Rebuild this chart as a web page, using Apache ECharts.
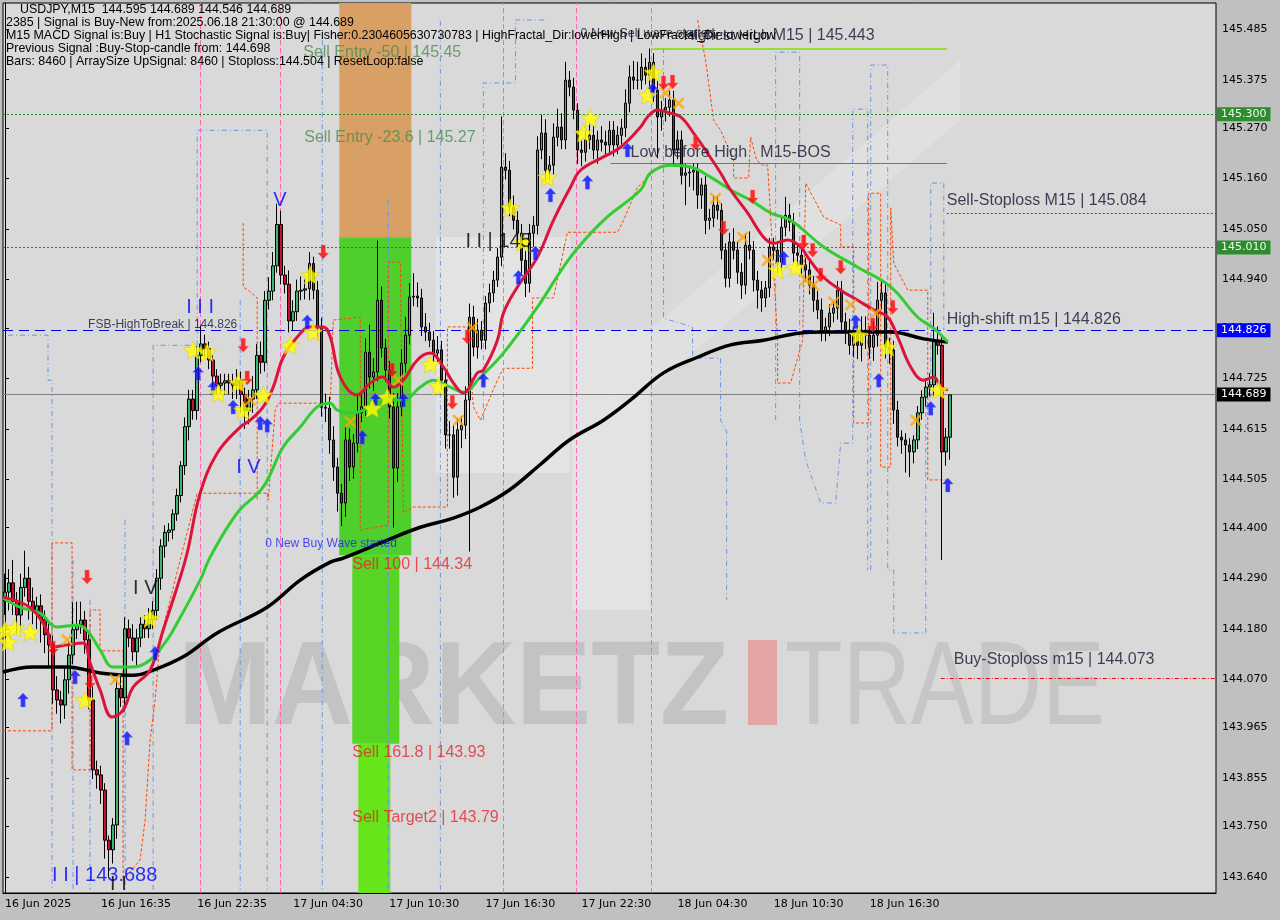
<!DOCTYPE html>
<html><head><meta charset="utf-8">
<script src="https://cdn.jsdelivr.net/npm/echarts@6/dist/echarts.min.js"></script>
<style>html,body{margin:0;padding:0;background:#c0c0c0;}#c{width:1280px;height:920px;}</style>
</head><body><div id="c"></div><script>
// ---------------- DATA ----------------
const timeLabels = ['16 Jun 2025','16 Jun 16:35','16 Jun 22:35','17 Jun 04:30','17 Jun 10:30','17 Jun 16:30','17 Jun 22:30','18 Jun 04:30','18 Jun 10:30','18 Jun 16:30'];
const priceTicks = [145.485,145.375,145.270,145.160,145.050,144.940,144.835,144.725,144.615,144.505,144.400,144.290,144.180,144.070,143.965,143.855,143.750,143.640];
const firstOpen = 144.24;
const closes = [
144.26,144.28,144.24,144.21,144.27,144.29,144.24,144.22,144.23,144.20,
144.167,144.145,144.047,144.025,144.014,144.069,144.123,144.178,144.189,144.199,
144.156,144.025,143.873,143.862,143.829,143.720,143.699,143.753,144.05,144.03,
144.18,144.16,144.13,144.16,144.19,144.18,144.20,144.22,144.29,144.36,
144.39,144.395,144.43,144.47,144.535,144.62,144.68,144.655,144.775,144.80,
144.79,144.765,144.73,144.71,144.715,144.72,144.715,144.71,144.72,144.69,
144.655,144.68,144.70,144.775,144.76,144.895,144.915,144.97,145.06,144.95,
144.93,144.85,144.87,144.915,144.917,144.92,144.975,144.917,144.837,144.662,
144.660,144.591,144.532,144.475,144.454,144.591,144.532,144.584,144.650,144.663,
144.782,144.728,144.739,144.895,144.791,144.743,144.663,144.530,144.663,144.758,
144.819,144.902,144.904,144.900,144.837,144.826,144.808,144.780,144.787,144.721,
144.602,144.602,144.510,144.613,144.623,144.678,144.858,144.793,144.830,144.808,
144.889,144.911,144.939,144.989,145.185,145.178,145.098,145.069,145.041,144.982,
144.932,145.041,145.058,145.222,145.259,145.178,145.189,145.250,145.272,145.244,
145.374,145.359,145.309,145.222,145.217,145.244,145.254,145.222,145.244,145.239,
145.233,145.265,145.233,145.254,145.270,145.324,145.381,145.374,145.374,145.402,
145.385,145.413,145.352,145.294,145.309,145.315,145.331,145.222,145.244,145.167,
145.172,145.174,145.178,145.124,145.146,145.069,145.074,145.102,145.091,145.004,
144.943,145.022,145.004,144.956,144.928,145.015,145.004,144.939,144.917,144.900,
144.922,145.011,145.004,144.978,145.054,145.080,145.065,144.998,144.993,144.972,
144.961,144.928,144.895,144.874,144.826,144.837,144.867,144.878,144.917,144.848,
144.830,144.797,144.819,144.797,144.830,144.819,144.793,144.819,144.895,144.911,
144.793,144.787,144.656,144.597,144.591,144.580,144.565,144.591,144.650,144.684,
144.706,144.711,144.808,144.797,144.565,144.597,144.689];
// wick length above / below the body, in points (0.001)
const hiExt = [
40,30,50,20,30,60,25,30,20,25, 20,30,20,30,20,25,30,60,50,40, 20,15,30,20,20,15,10,15,20,30,
25,20,30,20,15,20,25,20,20,15, 15,15,10,15,10,20,20,20,20,40, 20,15,10,15,20,15,15,20,25,20,
15,20,30,25,30,20,30,30,45,30, 20,30,25,25,30,20,25,15,20,20, 30,25,30,20,20,30,25,20,40,30,
30,60,30,130,30,20,20,30,30,30, 40,30,50,30,20,30,20,20,30,20, 20,30,20,25,20,30,30,25,25,20,
15,20,20,20,110,30,20,25,20,20, 20,20,20,30,40,30,20,30,40,30, 40,20,20,15,20,20,30,20,20,30,
25,20,20,20,20,30,25,35,40,30, 20,30,20,20,20,20,20,20,20,20, 20,15,15,15,15,20,20,20,20,15,
15,20,30,20,20,25,30,20,20,20, 15,20,20,20,25,40,25,20,20,20, 15,20,20,20,25,20,20,15,20,20,
20,25,20,20,30,30,20,30,40,30, 20,20,20,20,15,15,15,10,15,15, 20,25,60,30,20,20,0];
const loExt = [
30,40,30,40,30,20,40,30,40,50, 40,50,30,30,40,30,30,20,20,20, 30,20,20,30,30,40,60,30,30,20,
30,20,20,30,20,20,20,20,20,25, 25,20,20,15,15,20,30,20,20,15, 20,20,25,20,20,25,25,30,30,40,
40,30,30,20,25,20,20,20,15,20, 20,25,20,20,20,20,25,20,25,20, 30,30,30,40,50,30,30,25,20,20,
20,25,30,20,20,25,25,130,30,20, 20,20,20,20,20,20,15,20,20,20, 30,30,45,40,40,30,330,20,25,20,
20,20,20,15,20,20,20,20,25,30, 30,20,30,20,20,25,20,20,20,20, 20,20,20,30,30,20,20,20,30,20,
20,20,25,20,20,20,20,20,20,20, 20,25,25,90,30,25,20,30,20,20, 65,30,40,30,30,30,20,20,20,20,
20,20,20,25,30,20,20,25,40,30, 20,20,20,25,20,20,20,20,25,20, 25,20,25,20,20,20,20,20,25,25,
30,20,25,30,35,30,25,30,25,20, 25,30,30,20,30,60,55,25,20,15, 20,20,25,20,235,30,49];

// moving averages: [bar index, price]
const redMA = [[-0.5,144.249],[3.75,144.238],[7,144.221],[10.5,144.177],[12,144.140],[15.5,144.145],[19.5,144.149],[21.25,144.106],[23.75,144.047],[26.75,143.988],[29.5,144.003],[32,144.053],[36.25,144.090],[39.5,144.177],[43,144.271],[45.5,144.345],[48.75,144.475],[53,144.562],[58.75,144.619],[61.25,144.634],[64.5,144.663],[67,144.706],[69.5,144.771],[73,144.815],[76.25,144.837],[79.5,144.837],[81.25,144.815],[83.75,144.728],[88,144.689],[91.25,144.715],[94.25,144.728],[97,144.706],[99.5,144.721],[103,144.765],[106.25,144.780],[109.5,144.750],[112,144.715],[114.5,144.693],[118,144.737],[119.5,144.743],[123,144.808],[124.5,144.867],[128,144.924],[133,144.989],[137,145.069],[141.25,145.141],[143.75,145.178],[149.5,145.207],[153.75,145.228],[158.75,145.272],[160.5,145.294],[163,145.309],[165.5,145.304],[168.75,145.294],[172,145.259],[175.5,145.215],[178.75,145.172],[181.25,145.135],[185.5,145.085],[189.5,145.032],[192,145.019],[195.5,145.026],[198.75,145.011],[200.5,144.989],[204.5,144.945],[208.75,144.917],[213,144.895],[217,144.874],[220.5,144.858],[223,144.815],[226.25,144.750],[229.5,144.721],[232,144.728],[233.75,144.706],[235.5,144.700]];
const greenMA = [[-0.5,144.247],[3.75,144.227],[8.75,144.214],[13,144.184],[18,144.188],[20.5,144.177],[23.75,144.134],[27,144.097],[32,144.097],[36.25,144.112],[40.5,144.156],[42,144.177],[48.75,144.286],[51.25,144.336],[58,144.432],[64.5,144.489],[69.5,144.576],[73.75,144.619],[78,144.663],[81.25,144.671],[83,144.656],[87,144.650],[91.25,144.663],[95.5,144.678],[99.5,144.678],[103.75,144.706],[107,144.721],[111.25,144.706],[114.5,144.695],[118.75,144.728],[124.5,144.780],[133,144.880],[141.25,144.989],[149.5,145.069],[158.75,145.135],[161.25,145.172],[166.25,145.189],[171.25,145.185],[176.25,145.163],[181.25,145.135],[186.25,145.113],[191.25,145.085],[196.25,145.069],[204.5,145.011],[213,144.967],[221.25,144.924],[228,144.858],[232,144.834],[235.5,144.804]];
const blackMA = [[-0.5,144.086],[7,144.097],[15.5,144.097],[23.75,144.084],[32,144.079],[37,144.090],[44.5,144.119],[53,144.171],[65.5,144.227],[73.75,144.286],[81.25,144.325],[84.5,144.334],[95.5,144.373],[103.75,144.401],[112,144.421],[118.75,144.445],[126,144.482],[133.5,144.536],[141,144.591],[149.5,144.634],[156.25,144.678],[164.5,144.737],[173,144.771],[181.25,144.798],[189.5,144.808],[198.75,144.824],[204.5,144.826],[213,144.826],[221.25,144.826],[229.5,144.811],[235.5,144.804]];

// dashed channel outlines: [bar index, price]
const blueChannels = [
 [[0.75,144.819],[10.75,144.819],[10.75,144.721],[11.75,144.721],[11.75,143.612]],
 [[17,144.330],[17,143.612]],
 [[21.25,144.243],[21.25,143.612]],
 [[30,144.417],[30,143.612]],
 [[37,143.612],[37,144.797],[48,144.797],[48,145.265],[65.5,145.265],[65.5,143.612]],
 [[58.75,144.895],[58.75,143.612]],
 [[79.25,145.461],[79.25,143.612]],
 [[95.75,145.113],[95.75,143.612]],
 [[108.75,143.612],[108.75,145.505]],
 [[119.5,144.634],[119.5,145.368],[127.5,145.368],[127.5,145.505],[135.5,145.505]],
 [[164.5,145.444],[164.5,144.856],[171.75,144.837],[171.75,144.769],[178.75,144.769],[178.75,144.634],[180.25,144.610],[180.25,144.243]],
 [[192.5,144.634],[192.5,145.435],[198.5,145.435],[198.5,144.634],[200,144.547],[203.75,144.454],[207.5,144.454],[208.75,144.584],[211.75,144.584],[211.75,145.311],[215.5,145.311],[215.5,144.308]],
 [[216.25,144.308],[216.25,145.407],[220.5,145.407],[220.5,144.308],[222,144.308],[222,144.171],[230,144.171],[230,144.678],[231.25,144.678],[231.25,145.150],[234.5,145.150],[234.5,144.830]]
];
const orangeChannels = [
 [[-0.5,143.958],[11.75,143.958],[11.75,144.367],[16.75,144.367],[16.75,143.873],[21.25,143.873],[21.25,144.221],[23.75,144.221],[23.75,144.132],[29.5,144.132],[29.5,143.633],[33.75,143.677],[35,143.764],[36.25,143.938],[37.5,144.025],[38.75,144.156],[41.25,144.243],[43.75,144.330],[48,144.475],[65.75,144.475],[65.75,144.460],[67.5,144.656],[68.25,144.671],[81.25,144.671],[82,144.852],[88.75,144.858],[88.75,144.395],[95.75,144.406],[95.75,144.978],[98.75,144.978],[99.5,144.432],[102,144.445],[110.5,144.445],[110.5,144.837],[115.5,144.837],[117,144.663],[118.75,144.634],[123,144.721],[124.5,144.747],[131.75,144.747],[131.75,144.900],[137,144.900],[140.5,145.043],[153,145.043],[154.5,145.069],[158,145.141],[163.75,145.189]],
 [[59.5,145.063],[59.5,144.924],[60.75,144.917],[63,144.900],[63,144.460]],
 [[173,145.505],[175,145.418],[177,145.287],[178.75,145.265],[182,145.200],[182,145.161],[185.75,145.161],[186.25,145.250],[187.75,145.200],[189.25,145.189],[190.5,145.189],[193,144.808],[193,144.715],[196.25,144.715],[199.25,144.808],[200,145.150],[204.5,145.076],[208.75,145.059],[208.75,145.011],[212,145.011],[212,144.628],[215.75,144.628],[215.75,145.128],[218.75,145.128],[218.75,144.532],[221.25,144.532],[221.25,145.096],[222,144.976],[225.5,144.917],[230.5,144.917],[230.5,144.504],[235.5,144.504]]
];
const pinkVerticals = [48.75, 68.75, 124.5, 142.75, 161.5];

// signal markers: [bar index, price]
const stars = [[0,144.177],[2.5,144.182],[0.75,144.151],[6.25,144.173],[20,144.025],[36.25,144.203],[47,144.787],[50.5,144.782],[53.25,144.693],[58.25,144.715],[59.5,144.656],[64.5,144.689],[71.25,144.797],[76.25,144.950],[77,144.826],[91.75,144.660],[95.5,144.684],[106.25,144.756],[108.25,144.708],[126.25,145.096],[129.25,145.022],[135.5,145.163],[144.5,145.259],[146.25,145.291],[160.5,145.341],[162,145.391],[193,144.961],[197.5,144.967],[213.25,144.819],[220.5,144.793],[233.25,144.700]];
const upArrows = [[4.5,144.025],[17.5,144.075],[30.5,143.942],[37.5,144.127],[48.25,144.736],[52,144.704],[57,144.663],[63.75,144.628],[65.5,144.623],[75.5,144.848],[89.25,144.597],[92.5,144.678],[99.5,144.678],[119.5,144.721],[128.25,144.945],[132.5,144.998],[136.25,145.124],[145.5,145.152],[155.5,145.222],[161.75,145.352],[194.5,144.987],[212.5,144.848],[218.25,144.721],[231.25,144.660],[235.5,144.493]];
const downArrows = [[12,144.138],[20.5,144.293],[21.25,144.064],[59.5,144.797],[60.5,144.726],[79.5,145.000],[96.75,144.743],[111.75,144.673],[115.5,144.815],[164.5,145.368],[166.75,145.370],[172.5,145.237],[179.5,145.052],[186.75,145.120],[199.5,145.022],[201.75,145.004],[203.75,144.950],[208.75,144.967],[216.75,144.841],[221.75,144.880]];
const crosses = [[15.5,144.156],[27.5,144.069],[61.25,144.678],[86.25,144.630],[98.25,144.721],[113.25,144.634],[116.75,144.835],[165,145.346],[168.25,145.324],[177.5,145.117],[184.25,145.032],[190.5,144.982],[200,144.939],[202,144.928],[207,144.891],[211.25,144.885],[217.5,144.867],[227.5,144.634]];

// levels
const lvlZoneTop = 145.032, lvlSell100 = 144.34, lvlSell1618 = 143.93;
const lvlGreenDots = [145.300, 145.010];
const lvlFSB = 144.826, lvlLast = 144.689, lvlHighestHigh = 145.443, lvlBOS = 145.193, lvlSellStop = 145.084, lvlBuyStop = 144.073;
const zoneBars = [83.5, 101.5, 86.75, 98.5, 88.25, 96.25];

// annotation texts and anchor [bar index, price]
const annoText = ['Sell Entry -50 | 145.45','Sell Entry -23.6 | 145.27','Sell 100 | 144.34','Sell 161.8 | 143.93','Sell Target2 | 143.79','0 New Buy Wave started','FSB-HighToBreak | 144.826','I I I','I V','V','I V','I I | 143.688','I I | 145','Low before High   M15-BOS','0 New Sell wave started','Highest High','M15 | 145.443','Sell-Stoploss M15 | 145.084','High-shift m15 | 144.826','Buy-Stoploss m15 | 144.073','I I'];
const annoPos = [[74.5,145.433],[74.75,145.250],[86.75,144.320],[86.75,143.911],[86.75,143.770],[65,144.366],[20.75,144.841],[45.25,144.880],[57.75,144.532],[67,145.113],[32,144.267],[11.75,143.643],[115,145.024],[156.25,145.217],[143.75,145.476],[169.5,145.470],[191.75,145.470],[235.25,145.113],[235.25,144.854],[237,144.113],[26.25,143.624]];
const headerLines = [
 'USDJPY,M15  144.595 144.689 144.546 144.689',
 '2385 | Signal is Buy-New from:2025.06.18 21:30:00 @ 144.689',
 'M15 MACD Signal is:Buy | H1 Stochastic Signal is:Buy| Fisher:0.2304605630730783 | HighFractal_Dir:lowerHigh | LowFractal_Dir:lowerLow',
 'Previous Signal :Buy-Stop-candle from: 144.698',
 'Bars: 8460 | ArraySize UpSignal: 8460 | Stoploss:144.504 | ResetLoop:false'];

// ---------------- STYLE / BUILD ----------------
const N_SLOTS = 303, LABEL_STEP = 24;
const Y_MIN = 143.605, Y_MAX = 145.542;
const cats = [];
for (let i = 0; i < N_SLOTS; i++) cats.push(i % LABEL_STEP === 0 && i / LABEL_STEP < timeLabels.length ? timeLabels[i / LABEL_STEP] : '');
const candles = closes.map((c, i) => {
  const o = i === 0 ? firstOpen : closes[i - 1];
  return [o, c, +(Math.min(o, c) - loExt[i] / 1000).toFixed(3), +(Math.max(o, c) + hiExt[i] / 1000).toFixed(3)];
});
const annoStyle = [
 ['#4d8b4d',16],['#4d8b4d',16],['#e8262b',16],['#e8262b',16],['#e8262b',16],['#1e1eff',12],['#141432',12],
 ['#0000ff',20],['#0000ff',20],['#0000ff',20],['#000000',20],['#0000ff',20],['#000000',20],['#141432',16],
 ['#141432',12.5],['#141432',15],['#141432',16],['#141432',16],['#141432',16],['#141432',16],['#000000',20]];
const annoData = annoText.map((t, i) => ({
  value: annoPos[i],
  label: { formatter: t, color: annoStyle[i][0], fontSize: annoStyle[i][1] }
}));

const STAR = 'path://M10,0 L12.9,6.9 L20,7.6 L14.6,12.3 L16.2,19.5 L10,15.8 L3.8,19.5 L5.4,12.3 L0,7.6 L7.1,6.9 Z';
const ARROW = 'path://M5,0 L10,6 L7,6 L7,14 L3,14 L3,6 L0,6 Z';
const XMARK = 'path://M0,2 L2,0 L7,5 L12,0 L14,2 L9,7 L14,12 L12,14 L7,9 L2,14 L0,12 L5,7 Z';
const FONT = 'Liberation Sans, Arial, sans-serif';
const AXFONT = 'DejaVu Sans, Verdana, sans-serif';

const axisBox = (bg, fg, v) => ({ show: true, position: 'end', distance: 1, formatter: v.toFixed(3), backgroundColor: bg, color: fg, padding: [2, 4, 1, 4], fontFamily: AXFONT, fontSize: 11 });
const chart = echarts.init(document.getElementById('c'), null, { renderer: 'canvas' });

const dashedSeries = (list, color, dash, z) => list.map(pts => ({
  type: 'line', xAxisIndex: 1, data: pts, symbol: 'none', z: z, silent: true,
  lineStyle: { color: color, width: 1, type: dash }
}));

const option = {
  animation: false,
  backgroundColor: '#c0c0c0',
  grid: { left: 3, right: 64, top: 3, bottom: 27, show: true, backgroundColor: '#d9d9d9', borderColor: '#000', borderWidth: 1, z: 0 },
  xAxis: [{
    type: 'category', data: cats, boundaryGap: true,
    axisLine: { lineStyle: { color: '#000' } },
    axisTick: { alignWithLabel: true, length: 4, interval: (i, v) => v !== '', lineStyle: { color: '#000' } },
    axisLabel: { interval: (i, v) => v !== '', align: 'left', color: '#000', fontFamily: AXFONT, fontSize: 11, margin: 6 },
    splitLine: { show: false }
  }, {
    type: 'value', min: -0.5, max: N_SLOTS - 0.5, show: false
  }],
  yAxis: {
    type: 'value', position: 'right', min: Y_MIN, max: Y_MAX, scale: true,
    axisLine: { show: true, lineStyle: { color: '#000' } },
    axisTick: { show: true, length: 4, customValues: priceTicks, lineStyle: { color: '#000' } },
    axisLabel: { customValues: priceTicks, formatter: v => v.toFixed(3), color: '#000', fontFamily: AXFONT, fontSize: 11, margin: 6 },
    splitLine: { show: false }
  },
  graphic: [
    // faint logo panels behind the chart
    { type: 'rect', z: 1, shape: { x: 436, y: 237, width: 134, height: 236 }, style: { fill: 'rgba(255,255,255,0.28)' } },
    { type: 'rect', z: 1, shape: { x: 572, y: 330, width: 78, height: 280 }, style: { fill: 'rgba(255,255,255,0.28)' } },
    { type: 'polygon', z: 1, shape: { points: [[650, 330], [960, 60], [960, 120], [650, 390]] }, style: { fill: 'rgba(255,255,255,0.18)' } },
    // watermark
    { type: 'text', z: 1, left: 178, top: 632, style: { text: 'MARKETZ', font: 'bold 118px ' + FONT, fill: 'rgba(150,150,150,0.32)' }, scaleX: 0.955 },
    { type: 'rect', z: 1, shape: { x: 748, y: 640, width: 29, height: 85 }, style: { fill: 'rgba(235,120,120,0.55)' } },
    { type: 'text', z: 1, left: 785, top: 632, style: { text: 'TRADE', font: '118px ' + FONT, fill: 'rgba(150,150,150,0.28)' }, scaleX: 0.8 },
    // header
    ...headerLines.map((t, i) => ({ type: 'text', z: 50, left: i === 0 ? 20 : 6, top: 4 + i * 12.8, style: { text: t, font: '12.4px ' + FONT, fill: '#000' } }))
  ],
  series: [
    ...dashedSeries(blueChannels, '#6495ed', [5, 3, 1, 3], 3),
    ...dashedSeries(orangeChannels, '#ff4500', [3, 2], 3),
    { type: 'line', xAxisIndex: 1, data: [], z: 3, silent: true,
      markLine: { silent: true, symbol: ['none', 'none'], label: { show: false },
        lineStyle: { color: '#ff69b4', type: [5, 3], width: 1 },
        data: pinkVerticals.map(v => ({ xAxis: v })) } },
    { type: 'candlestick', xAxisIndex: 0, data: candles, barWidth: 3, z: 5,
      itemStyle: { color: '#3cb371', color0: '#c8102e', borderColor: '#000', borderColor0: '#000', borderWidth: 1 } },
    { type: 'line', xAxisIndex: 1, data: blackMA, smooth: 0.4, symbol: 'none', z: 6, lineStyle: { color: '#000', width: 3.5 } },
    { type: 'line', xAxisIndex: 1, data: greenMA, smooth: 0.4, symbol: 'none', z: 6, lineStyle: { color: '#32cd32', width: 3 } },
    { type: 'line', xAxisIndex: 1, data: redMA, smooth: 0.4, symbol: 'none', z: 7, lineStyle: { color: '#dc143c', width: 3 } },
    // zones and levels
    { type: 'line', xAxisIndex: 1, data: [], z: 2, silent: true,
      markArea: { silent: true, data: [
        [{ coord: [zoneBars[0], Y_MAX], itemStyle: { color: '#d9a066' } }, { coord: [zoneBars[1], lvlZoneTop] }],
        [{ coord: [zoneBars[0], lvlZoneTop], itemStyle: { color: '#4ecf2c' } }, { coord: [zoneBars[1], lvlSell100] }],
        [{ coord: [zoneBars[2], lvlSell100], itemStyle: { color: '#58d425' } }, { coord: [zoneBars[3], lvlSell1618] }],
        [{ coord: [zoneBars[4], lvlSell1618], itemStyle: { color: '#66e61a' } }, { coord: [zoneBars[5], Y_MIN] }]
      ] },
      markLine: { silent: true, symbol: ['none', 'none'], data: [
        { yAxis: lvlGreenDots[0], lineStyle: { color: '#1e8c1e', type: [2, 2], width: 1 }, label: axisBox('#2e8b2e', '#e8ffe8', lvlGreenDots[0]) },
        { yAxis: lvlGreenDots[1], lineStyle: { color: '#1e8c1e', type: [2, 2], width: 1 }, label: axisBox('#2e8b2e', '#e8ffe8', lvlGreenDots[1]) },
        { yAxis: lvlFSB, lineStyle: { color: '#0000ff', type: [10, 6], width: 1 }, label: axisBox('#0000ff', '#ffffff', lvlFSB) },
        { yAxis: lvlLast, lineStyle: { color: '#808080', type: 'solid', width: 1 }, label: axisBox('#000000', '#ffffff', lvlLast) },
        [{ coord: [161.75, lvlHighestHigh], lineStyle: { color: '#7fe000', type: 'solid', width: 1.5 }, label: { show: false } }, { coord: [235.25, lvlHighestHigh] }],
        [{ coord: [151.25, lvlBOS], lineStyle: { color: '#ff4500', type: 'solid', width: 1.2 }, label: { show: false } }, { coord: [235.25, lvlBOS] }],
        [{ coord: [235.25, lvlSellStop], lineStyle: { color: '#505050', type: [2, 2], width: 1 }, label: { show: false } }, { coord: [N_SLOTS - 0.5, lvlSellStop] }],
        [{ coord: [233.75, lvlBuyStop], lineStyle: { color: '#ff0000', type: [4, 2, 1, 2], width: 1 }, label: { show: false } }, { coord: [N_SLOTS - 0.5, lvlBuyStop] }]
      ] } },
    { type: 'scatter', xAxisIndex: 1, data: crosses, symbol: XMARK, symbolSize: [12, 12], z: 9, itemStyle: { color: '#ffa500' } },
    { type: 'scatter', xAxisIndex: 1, data: upArrows, symbol: ARROW, symbolSize: [11, 14], z: 9, itemStyle: { color: '#0a0aff', borderColor: '#6a8cff', borderWidth: 0.5 } },
    { type: 'scatter', xAxisIndex: 1, data: downArrows, symbol: ARROW, symbolRotate: 180, symbolSize: [11, 14], z: 9, itemStyle: { color: '#ff0000', borderColor: '#ff8080', borderWidth: 0.5 } },
    { type: 'scatter', xAxisIndex: 1, data: stars, symbol: STAR, symbolSize: [19, 18], z: 10, itemStyle: { color: '#ffff00', borderColor: '#e0c000', borderWidth: 0.6 } },
    { type: 'scatter', xAxisIndex: 1, data: annoData, symbolSize: 0, z: 12, silent: true,
      label: { show: true, position: 'right', distance: 0, fontFamily: FONT } }
  ]
};
chart.setOption(option);
</script></body></html>
